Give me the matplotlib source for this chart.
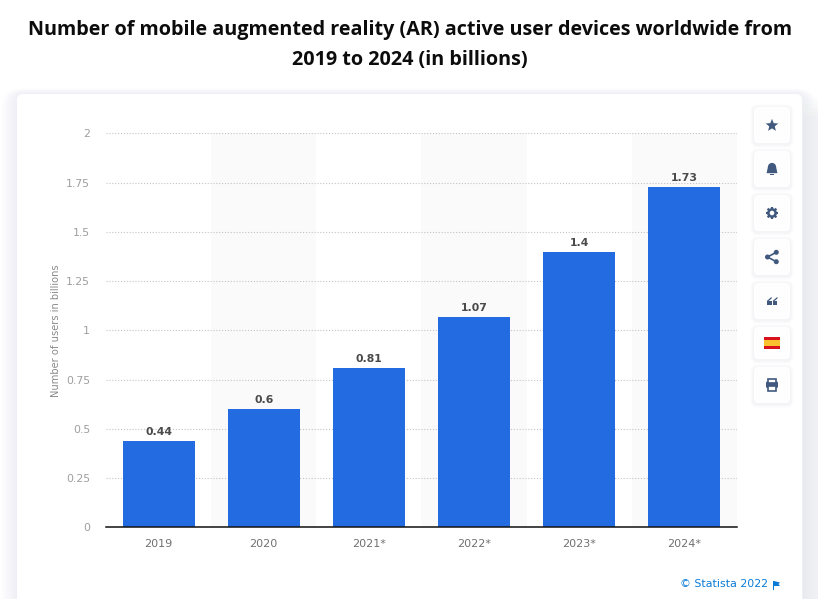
import math
import matplotlib
matplotlib.use("Agg")
import matplotlib.pyplot as plt
from matplotlib.patches import FancyBboxPatch, Rectangle, Circle, Polygon

years = ["2019", "2020", "2021*", "2022*", "2023*", "2024*"]
values = [0.44, 0.6, 0.81, 1.07, 1.4, 1.73]
value_labels = ["0.44", "0.6", "0.81", "1.07", "1.4", "1.73"]
y_ticks = [0, 0.25, 0.5, 0.75, 1, 1.25, 1.5, 1.75, 2]
y_tick_labels = ["0", "0.25", "0.5", "0.75", "1", "1.25", "1.5", "1.75", "2"]
title_lines = ["Number of mobile augmented reality (AR) active user devices worldwide from",
               "2019 to 2024 (in billions)"]
y_label = "Number of users in billions"
credit = "© Statista 2022"

W, H = 818, 599
fig = plt.figure(figsize=(W / 100, H / 100), dpi=100, facecolor="white")

bg = fig.add_axes([0, 0, 1, 1], zorder=0)
bg.set_xlim(0, W)
bg.set_ylim(H, 0)
bg.axis("off")

def rbox(x, y, w, h, r, fc, alpha=1, z=1):
    p = FancyBboxPatch((x + r, y + r), w - 2 * r, h - 2 * r,
                       boxstyle=f"round,pad={r},rounding_size={r}",
                       fc=fc, ec="none", alpha=alpha, zorder=z, lw=0)
    bg.add_patch(p)

# soft card shadow (faint on top, stronger at the sides), page band right of the card
for i, a in zip(range(16, 0, -2), [.05, .06, .07, .08, .09, .1, .12, .14]):
    rbox(17 - i, 94 - i * 0.35, 785 + 2 * i, 530, 6 + i, "#e6e9f0", alpha=a, z=0.8)
for k, a in enumerate([.15, .3, .45, .6, .75, .9]):
    bg.add_patch(Rectangle((803, 96 + k * 4), 15, 503 - k * 4, fc="#eef0f4", alpha=a * 0.4, lw=0, zorder=0.7))
rbox(17, 94, 785, 530, 6, "white", z=1)

# side buttons
btn_tops = [107, 151, 195, 239, 283, 327, 367]
btn_h = [36, 36, 36, 36, 36, 32, 36]
for t, h in zip(btn_tops, btn_h):
    for i, a in zip([4, 3, 2, 1], [.05, .08, .11, .14]):
        rbox(754 - i, t - i + 1, 36 + 2 * i, h + 2 * i, 4 + i, "#dfe3ea", alpha=a, z=1.2)
    rbox(754, t, 36, h, 4, "#fefefe", z=1.5)

ic = "#41597f"
zi = 3
cx = 772
# star
star = []
for k in range(10):
    r = 6.6 if k % 2 == 0 else 2.9
    ang = -math.pi / 2 + k * math.pi / 5
    star.append((cx + r * math.cos(ang), 125.5 + r * math.sin(ang)))
bg.add_patch(Polygon(star, fc=ic, lw=0, zorder=zi))
# bell
bg.add_patch(Circle((cx, 167), 4.1, fc=ic, lw=0, zorder=zi))
bg.add_patch(Polygon([(cx - 4.1, 167), (cx + 4.1, 167), (cx + 5.4, 173.2), (cx - 5.4, 173.2)], fc=ic, lw=0, zorder=zi))
bg.add_patch(Rectangle((cx - 1.8, 174.2), 3.6, 0.9, fc=ic, lw=0, zorder=zi))
# gear
for k in range(8):
    ang = k * math.pi / 4
    bg.plot([cx, cx + 6.2 * math.cos(ang)], [213, 213 + 6.2 * math.sin(ang)], color=ic, lw=1.6,
            solid_capstyle="butt", zorder=zi)
bg.add_patch(Circle((cx, 213), 4.9, fc=ic, lw=0, zorder=zi))
bg.add_patch(Circle((cx, 213), 2.3, fc="white", lw=0, zorder=zi + 1))
# share
pts = [(767.5, 257), (776.3, 252.3), (776.3, 261.7)]
bg.plot([pts[1][0], pts[0][0], pts[2][0]], [pts[1][1], pts[0][1], pts[2][1]], color=ic, lw=1.2, zorder=zi)
for p in pts:
    bg.add_patch(Circle(p, 2.5, fc=ic, lw=0, zorder=zi))
# quotes
for qx in (766.8, 772.6):
    bg.add_patch(Rectangle((qx, 300.5), 4.8, 4.8, fc=ic, lw=0, zorder=zi))
    bg.add_patch(Polygon([(qx, 301), (qx + 4.8, 296.8), (qx + 4.8, 298.6), (qx + 1.8, 301)], fc=ic, lw=0, zorder=zi))
# flag
bg.add_patch(Rectangle((764, 337), 16, 12, fc="#d8111c", lw=0, zorder=zi))
bg.add_patch(Rectangle((764, 340), 16, 6, fc="#fbc02d", lw=0, zorder=zi + 1))
# printer
bg.add_patch(FancyBboxPatch((766, 381.5), 12, 6.5, boxstyle="round,pad=0,rounding_size=1.5", fc=ic, lw=0, zorder=zi))
bg.add_patch(Rectangle((768.3, 379), 7.4, 4, fc="white", ec=ic, lw=1.2, zorder=zi))
bg.add_patch(Rectangle((768.3, 386), 7.4, 4.5, fc="white", ec=ic, lw=1.2, zorder=zi + 1))

# chart
ax = fig.add_axes([106 / W, (H - 527.3) / H, 631 / W, 393.9 / H], zorder=2)
ax.patch.set_alpha(0)
xs = list(range(len(years)))
for i in xs:
    if i % 2 == 1:
        ax.axvspan(i - 0.5, i + 0.5, fc="#fafafa", lw=0, zorder=0)
ax.bar(xs, values, width=0.685, color="#226be0", zorder=3)
ax.set_xlim(-0.5, 5.5)
ax.set_ylim(0, 2)
ax.set_xticks(xs, years)
ax.set_yticks(y_ticks, y_tick_labels)
ax.grid(axis="y", color="#c4c4c4", lw=0.8, ls=(0, (1, 1.6)), zorder=1)
ax.set_axisbelow(True)
for s in ("top", "right", "left"):
    ax.spines[s].set_visible(False)
ax.spines["bottom"].set_color("#111111")
ax.spines["bottom"].set_linewidth(1.1)
ax.spines["bottom"].set_zorder(5)
ax.tick_params(axis="x", length=0, pad=8.5, labelsize=8, labelcolor="#707070")
ax.tick_params(axis="y", length=0, pad=11.5, labelsize=7.8, labelcolor="#9e9e9e")
for x, v, t in zip(xs, values, value_labels):
    ax.annotate(t, (x, v), xytext=(0, 2.8), textcoords="offset points", ha="center", va="bottom",
                fontsize=7.8, fontweight="bold", color="#4a4a4a", zorder=6)

bg.text(56, 331, y_label, rotation=90, ha="center", va="center", fontsize=7.1, color="#8a8a8a", zorder=3)
bg.text(680, 584, credit, ha="left", va="center", fontsize=7.9, color="#0a7bd6", zorder=3)
bg.add_patch(Rectangle((773, 581), 1.3, 8.5, fc="#0a7bd6", lw=0, zorder=3))
bg.add_patch(Polygon([(774, 581), (780, 582.5), (778.5, 584), (780, 586), (774, 586)], fc="#0a7bd6", lw=0, zorder=3))

for yy, line in zip((30, 60.5), title_lines):
    bg.text(410, yy, line, ha="center", va="center", fontsize=14.2, family="Open Sans", fontweight="bold",
            color="#0c0c0c", zorder=3)

fig.savefig("out.png", dpi=100, facecolor="white")
